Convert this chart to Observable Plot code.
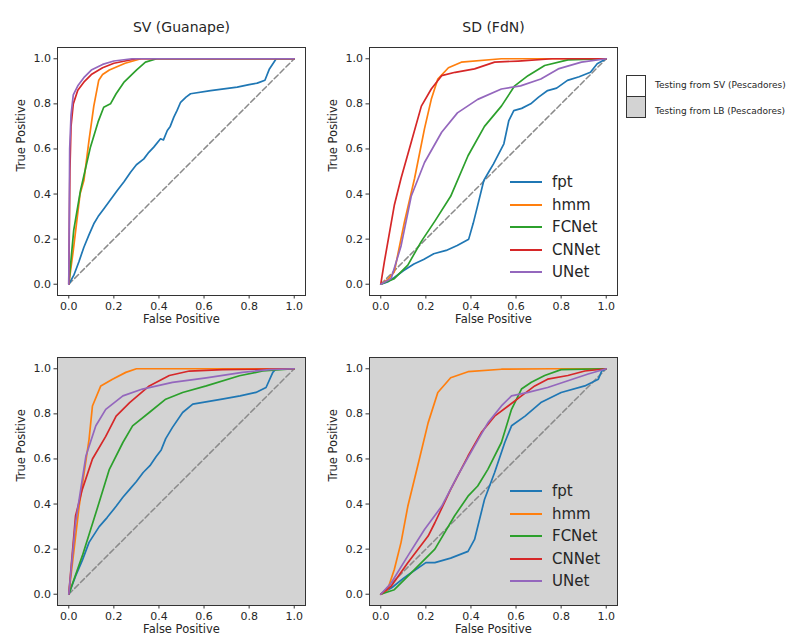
<!DOCTYPE html>
<html><head><meta charset="utf-8">
<script src="https://cdn.jsdelivr.net/npm/d3@7"></script>
<script src="https://cdn.jsdelivr.net/npm/@observablehq/plot@0.6"></script>
<style>
body{margin:0;background:#fff;font-family:"DejaVu Sans",sans-serif;color:#262626;}
#chart{position:relative;width:805px;height:640px;overflow:hidden;background:#fff;}
.panel{position:absolute;}
.item{position:absolute;display:flex;align-items:center;height:20px;font-size:15px;white-space:nowrap;}
.item .sw{display:inline-block;width:32px;height:0;border-top:2px solid;margin-right:10px;}
.box{position:absolute;width:20px;height:20px;border:1px solid #333;box-sizing:border-box;}
.btxt{position:absolute;font-size:9px;white-space:nowrap;line-height:12px;}
</style></head><body><div id="chart"></div>
<script>
// ---- categories / labels ----
const models = ["fpt", "hmm", "FCNet", "CNNet", "UNet"];
const colors = ["#1f77b4", "#ff7f0e", "#2ca02c", "#d62728", "#9467bd"];
const titles = ["SV (Guanape)", "SD (FdN)"];
const legendLabels = ["Testing from SV (Pescadores)", "Testing from LB (Pescadores)"];
const tickValues = [0, 0.2, 0.4, 0.6, 0.8, 1.0];
const xLabel = "False Positive";
const yLabel = "True Positive";
const diag = [[0, 0], [1, 1]];

// ---- ROC points [false positive, true positive] ----
// SV (Guanape), testing from SV
const svSV_fpt = [[0,0],[0.022,0.039],[0.045,0.1],[0.067,0.164],[0.09,0.22],[0.111,0.268],[0.13,0.3],[0.155,0.334],[0.185,0.375],[0.215,0.416],[0.245,0.455],[0.274,0.497],[0.3,0.53],[0.333,0.556],[0.355,0.585],[0.377,0.608],[0.407,0.645],[0.42,0.64],[0.437,0.682],[0.45,0.7],[0.466,0.741],[0.48,0.77],[0.496,0.807],[0.52,0.83],[0.54,0.845],[0.629,0.859],[0.747,0.874],[0.8,0.885],[0.836,0.892],[0.87,0.905],[0.89,0.955],[0.92,1.0],[1,1]];
const svSV_hmm = [[0,0],[0.02,0.15],[0.05,0.4],[0.067,0.46],[0.09,0.64],[0.111,0.79],[0.133,0.905],[0.15,0.93],[0.18,0.95],[0.25,0.98],[0.32,1.0],[1,1]];
const svSV_fcnet = [[0,0],[0.022,0.24],[0.052,0.416],[0.096,0.608],[0.13,0.72],[0.155,0.785],[0.185,0.8],[0.21,0.845],[0.244,0.895],[0.3,0.95],[0.34,0.985],[0.39,1.0],[1,1]];
const svSV_cnnet = [[0,0],[0.005,0.5],[0.01,0.7],[0.02,0.8],[0.04,0.86],[0.07,0.9],[0.1,0.93],[0.15,0.96],[0.2,0.98],[0.3,1.0],[1,1]];
const svSV_unet = [[0,0],[0.004,0.6],[0.01,0.75],[0.02,0.84],[0.04,0.88],[0.07,0.92],[0.1,0.95],[0.15,0.975],[0.2,0.99],[0.28,1.0],[1,1]];
// SD (FdN), testing from SV
const sdSV_fpt = [[0,0],[0.03,0.01],[0.06,0.03],[0.1,0.06],[0.147,0.09],[0.19,0.11],[0.235,0.135],[0.29,0.15],[0.339,0.172],[0.39,0.2],[0.41,0.27],[0.428,0.342],[0.457,0.46],[0.48,0.5],[0.5,0.534],[0.546,0.623],[0.568,0.726],[0.59,0.77],[0.625,0.78],[0.665,0.8],[0.7,0.83],[0.74,0.859],[0.78,0.87],[0.828,0.904],[0.88,0.92],[0.93,0.94],[0.96,0.978],[1,1]];
const sdSV_hmm = [[0,0],[0.03,0.02],[0.06,0.055],[0.105,0.276],[0.15,0.47],[0.194,0.69],[0.224,0.82],[0.253,0.91],[0.3,0.96],[0.357,0.985],[0.535,1.0],[1,1]];
const sdSV_fcnet = [[0,0],[0.06,0.025],[0.12,0.085],[0.18,0.19],[0.24,0.28],[0.31,0.39],[0.387,0.57],[0.46,0.7],[0.535,0.79],[0.594,0.88],[0.653,0.925],[0.727,0.97],[0.83,0.995],[1,1]];
const sdSV_cnnet = [[0,0],[0.016,0.1],[0.06,0.35],[0.09,0.47],[0.135,0.63],[0.18,0.79],[0.224,0.866],[0.27,0.925],[0.33,0.94],[0.416,0.955],[0.505,0.985],[0.61,0.99],[0.76,1.0],[1,1]];
const sdSV_unet = [[0,0],[0.046,0.025],[0.09,0.17],[0.135,0.39],[0.194,0.54],[0.27,0.674],[0.34,0.76],[0.43,0.82],[0.535,0.866],[0.62,0.88],[0.71,0.91],[0.787,0.955],[0.89,0.985],[1,1]];
// SV (Guanape), testing from LB
const svLB_fpt = [[0,0],[0.03,0.08],[0.06,0.15],[0.09,0.23],[0.135,0.3],[0.17,0.34],[0.21,0.39],[0.24,0.43],[0.27,0.465],[0.3,0.5],[0.33,0.54],[0.36,0.57],[0.387,0.61],[0.41,0.64],[0.43,0.69],[0.46,0.74],[0.505,0.806],[0.55,0.843],[0.68,0.865],[0.76,0.88],[0.83,0.895],[0.875,0.917],[0.905,0.984],[0.92,1.0],[1,1]];
const svLB_hmm = [[0,0],[0.046,0.39],[0.09,0.687],[0.105,0.835],[0.142,0.924],[0.194,0.954],[0.253,0.984],[0.3,1.0],[1,1]];
const svLB_fcnet = [[0,0],[0.06,0.17],[0.12,0.36],[0.18,0.554],[0.24,0.673],[0.283,0.747],[0.357,0.806],[0.43,0.865],[0.505,0.895],[0.61,0.924],[0.757,0.969],[0.86,0.99],[1,1]];
const svLB_cnnet = [[0,0],[0.03,0.347],[0.06,0.465],[0.105,0.6],[0.164,0.7],[0.21,0.79],[0.27,0.85],[0.357,0.924],[0.446,0.97],[0.535,0.99],[0.683,0.996],[1,1]];
const svLB_unet = [[0,0],[0.03,0.317],[0.076,0.613],[0.12,0.747],[0.164,0.82],[0.24,0.88],[0.327,0.91],[0.46,0.94],[0.61,0.96],[0.77,0.984],[0.89,0.996],[1,1]];
// SD (FdN), testing from LB
const sdLB_fpt = [[0,0],[0.05,0.03],[0.1,0.07],[0.135,0.095],[0.2,0.14],[0.24,0.14],[0.31,0.16],[0.387,0.19],[0.416,0.243],[0.46,0.42],[0.505,0.54],[0.55,0.673],[0.58,0.747],[0.64,0.79],[0.71,0.85],[0.8,0.895],[0.905,0.924],[0.965,0.954],[0.98,0.99],[1,1]];
const sdLB_hmm = [[0,0],[0.03,0.02],[0.06,0.11],[0.09,0.23],[0.12,0.39],[0.164,0.57],[0.21,0.76],[0.253,0.895],[0.31,0.96],[0.387,0.987],[0.535,0.998],[0.76,1.0],[1,1]];
const sdLB_fcnet = [[0,0],[0.06,0.02],[0.135,0.095],[0.24,0.2],[0.327,0.347],[0.387,0.435],[0.43,0.48],[0.475,0.554],[0.535,0.673],[0.58,0.82],[0.624,0.91],[0.668,0.94],[0.727,0.97],[0.8,0.996],[1,1]];
const sdLB_cnnet = [[0,0],[0.046,0.035],[0.12,0.14],[0.21,0.258],[0.24,0.317],[0.31,0.465],[0.387,0.613],[0.446,0.717],[0.505,0.79],[0.565,0.835],[0.624,0.88],[0.683,0.924],[0.74,0.954],[0.83,0.97],[0.905,0.99],[1,1]];
const sdLB_unet = [[0,0],[0.046,0.05],[0.12,0.17],[0.194,0.287],[0.27,0.39],[0.34,0.524],[0.416,0.658],[0.475,0.76],[0.535,0.835],[0.58,0.88],[0.653,0.895],[0.74,0.917],[0.83,0.947],[0.92,0.977],[1,1]];

// ---- layout ----
const chart = document.getElementById("chart");
const FONT = "DejaVu Sans";

function panel({left, top, height, marginTop, marginBottom, marginLeft, marginRight, fill, series, title, legendTop}) {
  const rows = models.flatMap((m, i) => series[i].map(([x, y]) => ({model: m, fpr: x, tpr: y})));
  const marks = [
    Plot.frame({fill, stroke: "#333", strokeWidth: 1}),
    Plot.line(diag, {x: d => d[0], y: d => d[1], stroke: "#8a8a8a", strokeWidth: 1.5, strokeDasharray: "5.5,2.8"}),
    Plot.line(rows, {x: "fpr", y: "tpr", z: "model", stroke: "model", strokeWidth: 1.7}),
    Plot.axisX({ticks: tickValues, tickFormat: d3.format(".1f"), tickSize: 3.5, tickPadding: 3, label: null, stroke: "#333"}),
    Plot.axisY({ticks: tickValues, tickFormat: d3.format(".1f"), tickSize: 3.5, tickPadding: 3, label: null, stroke: "#333"}),
    Plot.text([xLabel], {text: d => d, frameAnchor: "bottom", dy: 27, fontSize: 11.5, fill: "#262626"}),
    Plot.text([yLabel], {text: d => d, frameAnchor: "left", dx: -36, rotate: -90, fontSize: 11.5, fill: "#262626"})
  ];
  if (title) marks.push(Plot.text([title], {text: d => d, frameAnchor: "top", dy: -25, fontSize: 14, fill: "#262626"}));
  const svg = Plot.plot({
    width: 320, height, marginTop, marginBottom, marginLeft, marginRight,
    style: {fontFamily: FONT, fontSize: "11px", color: "#262626", background: "transparent", overflow: "visible"},
    x: {domain: [-0.05, 1.05]},
    y: {domain: [-0.05, 1.05]},
    color: {domain: models, range: colors},
    marks
  });
  const wrap = document.createElement("div");
  wrap.className = "panel";
  wrap.style.left = left + "px";
  wrap.style.top = top + "px";
  wrap.appendChild(svg);
  chart.appendChild(wrap);
  if (legendTop != null) {
    models.forEach((m, i) => {
      const it = document.createElement("div");
      it.className = "item";
      it.style.left = "510px";
      it.style.top = (legendTop + i * 22.6 - 10) + "px";
      const sw = document.createElement("span");
      sw.className = "sw";
      sw.style.borderTopColor = colors[i];
      const tx = document.createElement("span");
      tx.textContent = m;
      it.appendChild(sw);
      it.appendChild(tx);
      chart.appendChild(it);
    });
  }
}

panel({left: 0, top: 0, height: 335, marginTop: 47, marginBottom: 40, marginLeft: 57, marginRight: 15, fill: "white",
  series: [svSV_fpt, svSV_hmm, svSV_fcnet, svSV_cnnet, svSV_unet], title: titles[0]});
panel({left: 310, top: 0, height: 335, marginTop: 47, marginBottom: 40, marginLeft: 59, marginRight: 13, fill: "white",
  series: [sdSV_fpt, sdSV_hmm, sdSV_fcnet, sdSV_cnnet, sdSV_unet], title: titles[1], legendTop: 182});
panel({left: 0, top: 320, height: 320, marginTop: 37, marginBottom: 35, marginLeft: 57, marginRight: 15, fill: "#d3d3d3",
  series: [svLB_fpt, svLB_hmm, svLB_fcnet, svLB_cnnet, svLB_unet]});
panel({left: 310, top: 320, height: 320, marginTop: 37, marginBottom: 35, marginLeft: 59, marginRight: 13, fill: "#d3d3d3",
  series: [sdLB_fpt, sdLB_hmm, sdLB_fcnet, sdLB_cnnet, sdLB_unet], legendTop: 491});

// right-hand legend: white = testing from SV, gray = testing from LB
const boxFills = ["#ffffff", "#d3d3d3"];
const boxTops = [75, 96];
const textTops = [79, 105];
legendLabels.forEach((lab, i) => {
  const b = document.createElement("div");
  b.className = "box";
  b.style.left = "626px";
  b.style.top = boxTops[i] + "px";
  b.style.height = "22px";
  b.style.background = boxFills[i];
  chart.appendChild(b);
  const t = document.createElement("div");
  t.className = "btxt";
  t.style.left = "655px";
  t.style.top = textTops[i] + "px";
  t.textContent = lab;
  chart.appendChild(t);
});
</script></body></html>
